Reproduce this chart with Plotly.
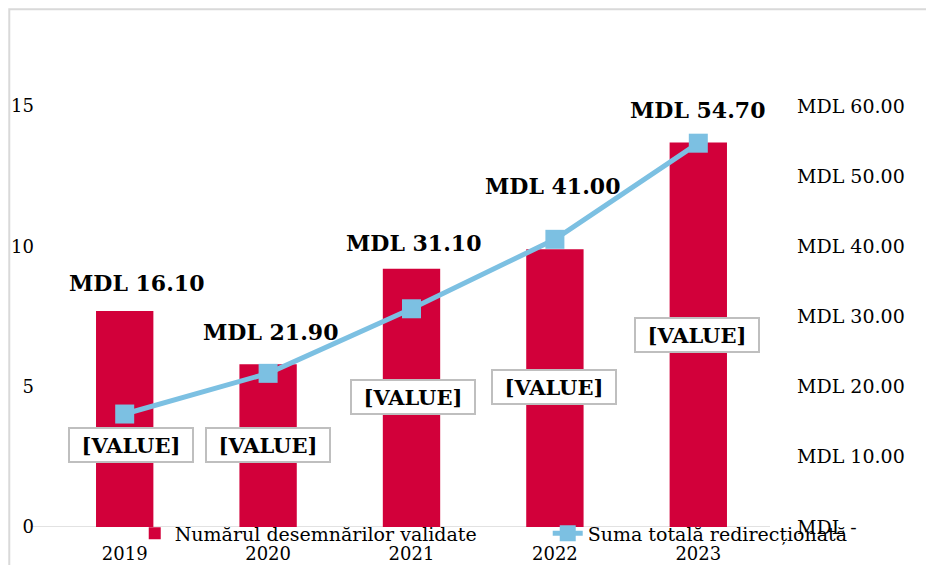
import plotly.graph_objects as go

years = ["2019", "2020", "2021", "2022", "2023"]
validated = [7.7, 5.8, 9.2, 9.9, 13.7]          # left axis, bars
amount_mdl = [16.10, 21.90, 31.10, 41.00, 54.70]  # right axis, line
bar_label_y = [2.92, 2.92, 4.63, 4.99, 6.84]      # where the [VALUE] boxes sit
right_ticks = [0, 10, 20, 30, 40, 50, 60]
right_ticktext = ["MDL -"] + ["MDL %.2f" % v for v in right_ticks[1:]]

# label offsets (px) for the line labels
lbl_dx = [12, 2, 2, -2, -1]
lbl_dy = [131, 41, 66, 53, 33]
box_dx = [6, 0, 1, -1, -1]

RED = "#D2003A"
BLUE = "#7CC0E2"
SERIF = "DejaVu Serif"

pos = list(range(len(years)))

fig = go.Figure()
fig.add_trace(go.Bar(
    x=pos, y=validated, name="Numărul desemnărilor validate",
    marker=dict(color=RED, line=dict(width=0)), width=0.4, legend="legend",
))
fig.add_trace(go.Scatter(
    x=pos, y=amount_mdl, name="Suma totală redirecționată", yaxis="y2",
    mode="lines+markers",
    line=dict(color=BLUE, width=5),
    marker=dict(symbol="square", size=19, color=BLUE), legend="legend2",
))

for i in pos:
    fig.add_annotation(
        x=i, y=amount_mdl[i], yref="y2", text="<b>MDL %.2f</b>" % amount_mdl[i],
        showarrow=False, xshift=lbl_dx[i], yshift=lbl_dy[i],
        font=dict(family=SERIF, size=22, color="#000000"),
    )
    fig.add_annotation(
        x=i, y=bar_label_y[i], yref="y", text="<b>[VALUE]</b>",
        showarrow=False, xshift=box_dx[i], width=120, height=30,
        font=dict(family=SERIF, size=21, color="#000000"),
        bgcolor="white", bordercolor="#BFBFBF", borderwidth=2, borderpad=1,
    )

# chart frame and the long x axis line
fig.add_shape(type="rect", xref="paper", yref="paper",
              x0=-0.061, x1=1.3, y0=-0.3, y1=1.23,
              line=dict(color="#D9D9D9", width=2), layer="below")
fig.add_shape(type="line", xref="paper", yref="y",
              x0=-0.032, x1=1.0, y0=0, y1=0,
              line=dict(color="#D9D9D9", width=1.5), layer="below")

leg = dict(orientation="h", xanchor="left", y=-0.015, yanchor="middle",
           bgcolor="rgba(0,0,0,0)", font=dict(family=SERIF, size=19))

# the page body adds an 8px offset, margins are set against it
fig.update_layout(
    width=934, height=565,
    margin=dict(l=45, r=172, t=98, b=46, autoexpand=False),
    plot_bgcolor="white", paper_bgcolor="white",
    font=dict(family=SERIF, size=18, color="#000000"),
    showlegend=True,
    legend=dict(leg, x=0.114),
    legend2=dict(leg, x=0.69),
    xaxis=dict(range=[-0.5, 4.5], tickvals=pos, ticktext=years, showline=False,
               showgrid=False, zeroline=False, ticks="", ticklabelstandoff=14,
               tickfont=dict(size=18), automargin=False),
    yaxis=dict(range=[0, 15], tickvals=[0, 5, 10, 15], showgrid=False, zeroline=False,
               showline=False, ticklabelstandoff=18, tickfont=dict(size=18),
               automargin=False),
    yaxis2=dict(range=[0, 60], overlaying="y", side="right", tickvals=right_ticks,
                ticktext=right_ticktext, showgrid=False, zeroline=False, showline=False,
                ticklabelstandoff=26, tickfont=dict(size=19), automargin=False),
)

fig.write_html("out.html")
